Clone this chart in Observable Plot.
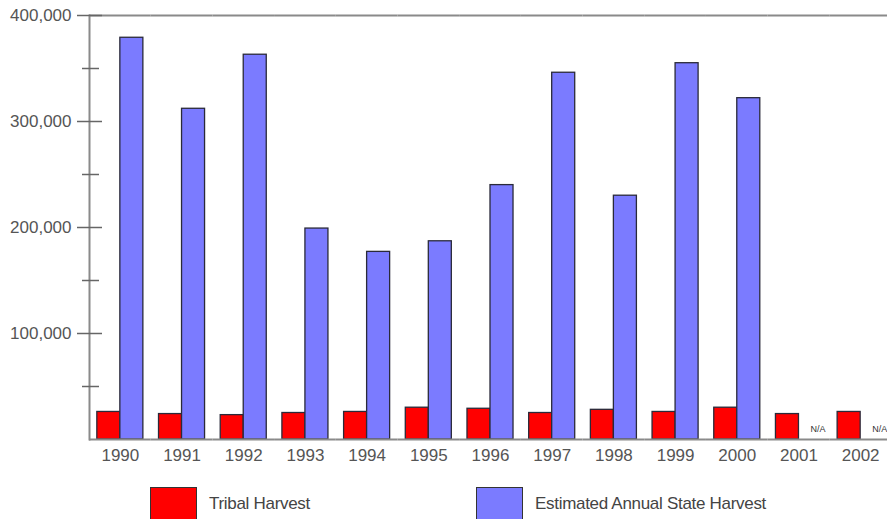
<!DOCTYPE html>
<html>
<head>
<meta charset="utf-8">
<script src="https://cdn.jsdelivr.net/npm/d3@7"></script>
<script src="https://cdn.jsdelivr.net/npm/@observablehq/plot@0.6"></script>
<style>
  html, body { margin: 0; padding: 0; background: #fff; overflow: hidden; }
  body { font-family: "Liberation Sans", Arial, sans-serif; }
  #legend { position: relative; height: 44px; overflow: hidden; }
  #legend .swatch { position: absolute; top: 12px; width: 47px; height: 40px; box-sizing: border-box; border: 1.5px solid #333; }
  #legend .label { position: absolute; top: 19px; font-size: 17px; line-height: 20px; color: #444; letter-spacing: -0.3px; }
</style>
</head>
<body>
<div id="chart"></div>
<div id="legend"></div>
<script>
// Harvest by year: tribal harvest vs. estimated annual state harvest
const years = ["1990", "1991", "1992", "1993", "1994", "1995", "1996", "1997", "1998", "1999", "2000", "2001", "2002"];
const tribalHarvest = [26000, 24000, 23000, 25000, 26000, 30000, 29000, 25000, 28000, 26000, 30000, 24000, 26000];
const stateHarvest = [379000, 312000, 363000, 199000, 177000, 187000, 240000, 346000, 230000, 355000, 322000, null, null];
const seriesNames = ["Tribal Harvest", "Estimated Annual State Harvest"];
const seriesColors = ["#ff0000", "#7b7bff"];
const yMajorTicks = [100000, 200000, 300000, 400000];
const yMinorTicks = [50000, 150000, 250000, 350000];
const missingLabel = "N/A";

// Long-format rows for the grouped bars
const rows = [];
years.forEach((year, i) => {
  rows.push({year, series: seriesNames[0], value: tribalHarvest[i]});
  if (stateHarvest[i] != null) rows.push({year, series: seriesNames[1], value: stateHarvest[i]});
});
// Years with no state estimate get an "N/A" note in the state slot
const missing = years
  .filter((year, i) => stateHarvest[i] == null)
  .map(year => ({year, series: seriesNames[1], value: 0}));

const axisGray = "#8a8a8a";

const chart = Plot.plot({
  width: 887,
  height: 475,
  marginLeft: 89,
  marginRight: 0,
  marginTop: 15,
  marginBottom: 36,
  style: {fontFamily: "'Liberation Sans', Arial, sans-serif", background: "#fff"},
  fx: {domain: years, padding: 0, round: false, range: [89, 891], label: null},
  x: {domain: seriesNames, paddingInner: 0, paddingOuter: 0.34, round: false, axis: null},
  y: {domain: [0, 400000]},
  color: {domain: seriesNames, range: seriesColors},
  marks: [
    Plot.ruleY([400000], {stroke: axisGray, strokeWidth: 2}),
    Plot.barY(rows, {fx: "year", x: "series", y: "value", fill: "series", stroke: "#2a2a3a", strokeWidth: 1.3}),
    Plot.text(missing, {fx: "year", x: "series", y: "value", text: () => missingLabel, textAnchor: "start", dy: -10, fontSize: 9, fill: "#333"}),
    Plot.ruleY([0], {stroke: axisGray, strokeWidth: 2}),
    Plot.frame({anchor: "left", facet: "super", stroke: axisGray, strokeWidth: 2}),
    // ticks straddle the axis line
    Plot.axisY(yMajorTicks, {tickSize: 25, dx: 13, fill: "none", stroke: "#666", strokeWidth: 1.5, label: null}),
    Plot.axisY(yMinorTicks, {tickSize: 17, dx: 10, fill: "none", stroke: "#666", strokeWidth: 1.5, label: null}),
    Plot.axisY(yMajorTicks, {tickSize: 0, tickPadding: 18, tickFormat: d3.format(","), fontSize: 17, fill: "#555", label: null}),
    Plot.axisFx({anchor: "bottom", tickSize: 0, tickPadding: 9, fontSize: 17, fill: "#555", label: null})
  ]
});
document.getElementById("chart").appendChild(chart);

// Legend below the chart
const legend = document.getElementById("legend");
const legendSlots = [150, 476];
seriesNames.forEach((name, i) => {
  const sw = document.createElement("div");
  sw.className = "swatch";
  sw.style.left = legendSlots[i] + "px";
  sw.style.background = seriesColors[i];
  legend.appendChild(sw);
  const lb = document.createElement("div");
  lb.className = "label";
  lb.style.left = (legendSlots[i] + 59) + "px";
  lb.textContent = name;
  legend.appendChild(lb);
});
</script>
</body>
</html>
